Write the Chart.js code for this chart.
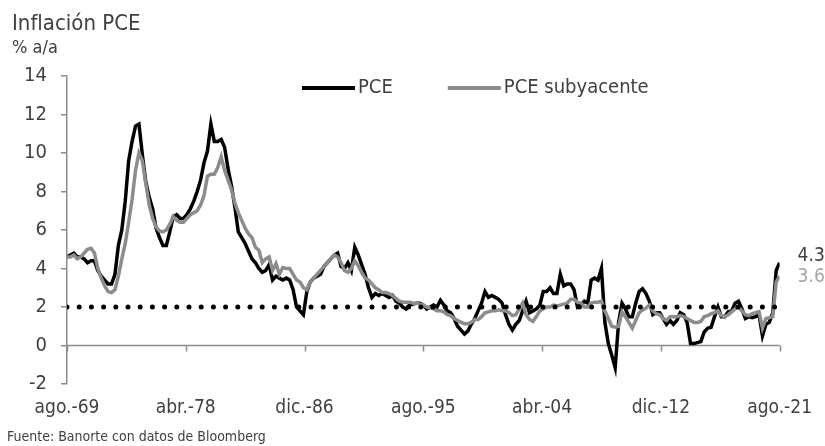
<!DOCTYPE html>
<html lang="es">
<head>
<meta charset="utf-8">
<title>Inflación PCE</title>
<script src="https://cdn.jsdelivr.net/npm/chart.js@4.4.1/dist/chart.umd.min.js"></script>
<style>
    html, body { margin: 0; padding: 0; background: #fff; }
    #marco {
        position: relative;
        width: 825px;
        height: 446px;
        overflow: hidden;
        font-family: "Liberation Sans Narrow", "Arial Narrow", "DejaVu Sans Condensed", sans-serif;
        color: #404040;
    }
    #titulo { position: absolute; left: 12px; top: 12px; font-size: 22px; line-height: 22px; white-space: nowrap; }
    #unidad { position: absolute; left: 12px; top: 38px; font-size: 18px; line-height: 18px; white-space: nowrap; }
    #fuente { position: absolute; left: 7px; top: 429px; font-size: 14px; line-height: 14px; white-space: nowrap; }
    #grafica { position: absolute; left: 0; top: 0; }
</style>
</head>
<body>
<div id="marco">
    <canvas id="grafica" width="825" height="446"></canvas>
    <div id="titulo">Inflación PCE</div>
    <div id="unidad">% a/a</div>
    <div id="fuente">Fuente: Banorte con datos de Bloomberg</div>
</div>
<script>
const FUENTE = '"Liberation Sans Narrow", "Arial Narrow", "DejaVu Sans Condensed", sans-serif';

// etiquetas del eje x (cada 104 meses desde ago.-69)
const etiquetasX = ["ago.-69", "abr.-78", "dic.-86", "ago.-95", "abr.-04", "dic.-12", "ago.-21"];
const ticksY = [-2, 0, 2, 4, 6, 8, 10, 12, 14];
const metaInflacion = 2;

// datos trimestrales (feb, may, ago, nov), de ago.-69 a ago.-21
const pce = [
    4.6, 4.7,
    4.8, 4.6, 4.6, 4.5,   // 1970
    4.3, 4.4, 4.4, 3.9,
    3.6, 3.4, 3.2, 3.2,
    3.7, 5.2, 6.0, 7.5,
    9.6, 10.6, 11.4, 11.5,
    9.9, 8.5, 7.7, 7.1,   // 1975
    6.1, 5.6, 5.2, 5.2,
    5.9, 6.7, 6.8, 6.6,
    6.6, 6.8, 7.1, 7.5,
    8.0, 8.6, 9.5, 10.1,
    11.5, 10.6, 10.6, 10.7, // 1980
    10.3, 9.2, 8.3, 7.2,
    5.9, 5.6, 5.3, 4.9,
    4.5, 4.3, 4.0, 3.8,
    3.9, 4.2, 3.4, 3.6,
    3.5, 3.4, 3.5, 3.4,   // 1985
    2.9, 2.0, 1.8, 1.6,
    2.8, 3.3, 3.5, 3.6,
    3.7, 4.1, 4.3, 4.5,
    4.7, 4.8, 4.1, 4.0,
    4.3, 3.9, 5.1, 4.7,   // 1990
    4.2, 3.7, 3.0, 2.5,
    2.7, 2.6, 2.7, 2.6,
    2.5, 2.6, 2.3, 2.2,
    2.0, 1.9, 2.1, 2.15,
    2.2, 2.2, 2.1, 1.9,   // 1995
    2.0, 2.1, 2.0, 2.35,
    2.1, 1.8, 1.7, 1.4,
    1.0, 0.8, 0.6, 0.75,
    1.1, 1.4, 1.8, 2.2,
    2.8, 2.5, 2.6, 2.5,   // 2000
    2.4, 2.2, 1.6, 1.1,
    0.8, 1.1, 1.3, 1.8,
    2.3, 1.7, 1.8, 1.9,
    2.1, 2.8, 2.8, 3.0,
    2.7, 2.7, 3.7, 3.1,   // 2005
    3.2, 3.2, 2.9, 2.0,
    2.1, 2.3, 2.2, 3.4,
    3.5, 3.4, 4.0, 1.2,
    0.1, -0.5, -1.15, 1.2,
    2.2, 1.9, 1.5, 1.5,   // 2010
    2.2, 2.8, 2.95, 2.7,
    2.3, 1.6, 1.7, 1.7,
    1.4, 1.1, 1.3, 1.1,
    1.3, 1.7, 1.6, 1.2,
    0.1, 0.1, 0.15, 0.2,  // 2015
    0.7, 0.9, 0.95, 1.5,
    2.0, 1.5, 1.5, 1.75,
    1.8, 2.2, 2.3, 1.9,
    1.4, 1.5, 1.45, 1.5,
    1.6, 0.5, 1.1, 1.2,   // 2020
    1.7, 3.9, 4.3
];

const pceSubyacente = [
    4.6, 4.6,
    4.7, 4.5, 4.6, 4.8,   // 1970
    5.0, 5.05, 4.8, 4.0,
    3.5, 3.1, 2.8, 2.75,
    2.9, 3.6, 4.5, 5.3,
    6.4, 7.6, 9.1, 10.0,
    9.6, 8.4, 7.3, 6.6,   // 1975
    6.15, 5.95, 5.9, 6.0,
    6.3, 6.7, 6.5, 6.4,
    6.4, 6.6, 6.8, 6.9,
    7.0, 7.3, 7.8, 8.8,
    8.9, 8.9, 9.25, 9.8,  // 1980
    9.1, 8.6, 8.1, 7.4,
    6.9, 6.5, 6.1, 5.8,
    5.6, 5.1, 4.95, 4.3,
    4.5, 4.6, 3.9, 4.25,
    3.7, 4.05, 4.0, 4.0,  // 1985
    3.7, 3.4, 3.3, 3.0,
    2.9, 3.3, 3.5, 3.7,
    3.9, 4.1, 4.3, 4.5,
    4.7, 4.6, 4.3, 3.9,
    3.8, 4.0, 4.4, 4.15,  // 1990
    3.8, 3.5, 3.4, 3.2,
    3.0, 2.9, 2.75, 2.75,
    2.7, 2.6, 2.45, 2.3,
    2.25, 2.25, 2.25, 2.2,
    2.2, 2.15, 2.1, 2.0,  // 1995
    1.95, 1.9, 1.8, 1.8,
    1.75, 1.6, 1.55, 1.4,
    1.3, 1.2, 1.13, 1.13,
    1.2, 1.35, 1.35, 1.5,
    1.7, 1.75, 1.8, 1.8,  // 2000
    1.85, 1.8, 1.8, 1.7,
    1.55, 1.6, 1.9, 2.2,
    1.6, 1.35, 1.25, 1.5,
    1.8, 1.9, 2.0, 2.0,
    2.1, 2.05, 2.1, 2.15, // 2005
    2.2, 2.4, 2.4, 2.25,
    2.2, 2.0, 2.0, 2.2,
    2.25, 2.25, 2.3, 1.8,
    1.4, 1.0, 0.95, 1.0,
    1.75, 1.5, 1.2, 0.9,  // 2010
    1.3, 1.7, 1.85, 1.95,
    2.1, 1.8, 1.65, 1.6,
    1.4, 1.3, 1.5, 1.5,
    1.5, 1.55, 1.5, 1.4,
    1.3, 1.2, 1.2, 1.25,  // 2015
    1.5, 1.55, 1.65, 1.7,
    1.8, 1.55, 1.5, 1.6,
    1.75, 1.9, 2.0, 1.8,
    1.6, 1.55, 1.65, 1.7,
    1.75, 0.9, 1.4, 1.45, // 2020
    1.5, 3.3, 3.6
];

// fechas de cada observacion: [año, mes], trimestral desde ago.-69
const fechas = [];
for (let i = 0, a = 1969, m = 8; i < pce.length; i++) {
    fechas.push([a, m]);
    m += 3;
    if (m > 12) { m -= 12; a++; }
}

// meses transcurridos desde ago.-69, para el eje lineal
function mesIndice(f) {
    return (f[0] - 1969) * 12 + (f[1] - 8);
}
function puntos(serie) {
    return serie.map((v, i) => ({ x: mesIndice(fechas[i]), y: v }));
}
const ultimoMes = mesIndice(fechas[fechas.length - 1]);

// eje horizontal en y = 0, con marcas
const ejeCero = {
    id: 'ejeCero',
    beforeDatasetsDraw(chart) {
        let ctx = chart.ctx;
        let xs = chart.scales.x;
        let y0 = chart.scales.y.getPixelForValue(0);
        ctx.save();
        ctx.strokeStyle = '#8c8c8c';
        ctx.lineWidth = 1.5;
        ctx.beginPath();
        ctx.moveTo(chart.chartArea.left, y0);
        ctx.lineTo(chart.chartArea.right, y0);
        xs.ticks.forEach(t => {
            let px = Math.round(xs.getPixelForValue(t.value)) + 0.5;
            ctx.moveTo(px, y0);
            ctx.lineTo(px, y0 + 6);
        });
        ctx.stroke();
        ctx.restore();
    }
};

// leyenda dentro del area de la grafica
const leyendaDentro = {
    id: 'leyendaDentro',
    afterDraw(chart) {
        let ctx = chart.ctx;
        let x = 302;
        let y = 88;
        ctx.save();
        ctx.font = `20px ${FUENTE}`;
        ctx.textBaseline = 'middle';
        chart.data.datasets.forEach(ds => {
            if (!ds.label) return;
            ctx.strokeStyle = ds.borderColor;
            ctx.lineWidth = 4;
            ctx.beginPath();
            ctx.moveTo(x, y);
            ctx.lineTo(x + 53, y);
            ctx.stroke();
            ctx.fillStyle = '#404040';
            ctx.fillText(ds.label, x + 56, y);
            x += 56 + ctx.measureText(ds.label).width + 55;
        });
        ctx.restore();
    }
};

// ultimo dato a la derecha de cada serie
const etiquetasFinales = {
    id: 'etiquetasFinales',
    afterDraw(chart) {
        let ctx = chart.ctx;
        ctx.save();
        ctx.font = `19px ${FUENTE}`;
        ctx.textBaseline = 'middle';
        chart.data.datasets.forEach((ds, i) => {
            if (!ds.label) return;
            let meta = chart.getDatasetMeta(i);
            let p = meta.data[meta.data.length - 1];
            let v = ds.data[ds.data.length - 1].y;
            ctx.fillStyle = ds.colorEtiqueta;
            ctx.fillText(v.toFixed(1), chart.chartArea.right + 18, p.y + ds.desplazamiento);
        });
        ctx.restore();
    }
};

new Chart(document.getElementById('grafica'), {
    type: 'line',
    data: {
        datasets: [
            {
                label: 'PCE',
                data: puntos(pce),
                borderColor: '#000000',
                borderWidth: 3.5,
                pointRadius: 0,
                tension: 0,
                order: 2,
                colorEtiqueta: '#404040',
                desplazamiento: -7,
            },
            {
                label: 'PCE subyacente',
                data: puntos(pceSubyacente),
                borderColor: '#8c8c8c',
                borderWidth: 3.5,
                pointRadius: 0,
                tension: 0,
                order: 1,
                colorEtiqueta: '#a6a6a6',
                desplazamiento: 1,
            },
            {
                label: '',
                data: [{ x: 0, y: metaInflacion }, { x: ultimoMes, y: metaInflacion }],
                borderColor: '#000000',
                borderWidth: 5,
                borderDash: [0, 12.2],
                borderCapStyle: 'round',
                pointRadius: 0,
                order: 0,
            },
        ]
    },
    options: {
        responsive: false,
        animation: false,
        layout: { padding: { top: 76, right: 43, bottom: 0, left: 0 } },
        plugins: {
            legend: { display: false },
            tooltip: { enabled: false },
        },
        scales: {
            x: {
                type: 'linear',
                min: 0,
                max: ultimoMes,
                afterFit: (s) => { s.height = 62; },
                afterBuildTicks: (s) => {
                    s.ticks = etiquetasX.map((e, i) => ({ value: i * 104 }));
                },
                grid: { display: false, drawTicks: false },
                border: { display: false },
                ticks: {
                    autoSkip: false,
                    maxRotation: 0,
                    padding: 13,
                    color: '#404040',
                    font: { family: FUENTE, size: 19 },
                    callback: (v) => etiquetasX[Math.round(v / 104)],
                },
            },
            y: {
                min: -2,
                max: 14,
                afterFit: (s) => { s.width = 67; },
                afterBuildTicks: (s) => {
                    s.ticks = ticksY.map(v => ({ value: v }));
                },
                grid: {
                    display: true,
                    drawOnChartArea: false,
                    drawTicks: true,
                    tickLength: 6,
                    color: '#8c8c8c',
                    lineWidth: 1.5,
                },
                border: { display: true, color: '#8c8c8c', width: 1.5 },
                ticks: {
                    padding: 14,
                    color: '#404040',
                    font: { family: FUENTE, size: 20 },
                },
            },
        },
    },
    plugins: [ejeCero, leyendaDentro, etiquetasFinales],
});
</script>
</body>
</html>
